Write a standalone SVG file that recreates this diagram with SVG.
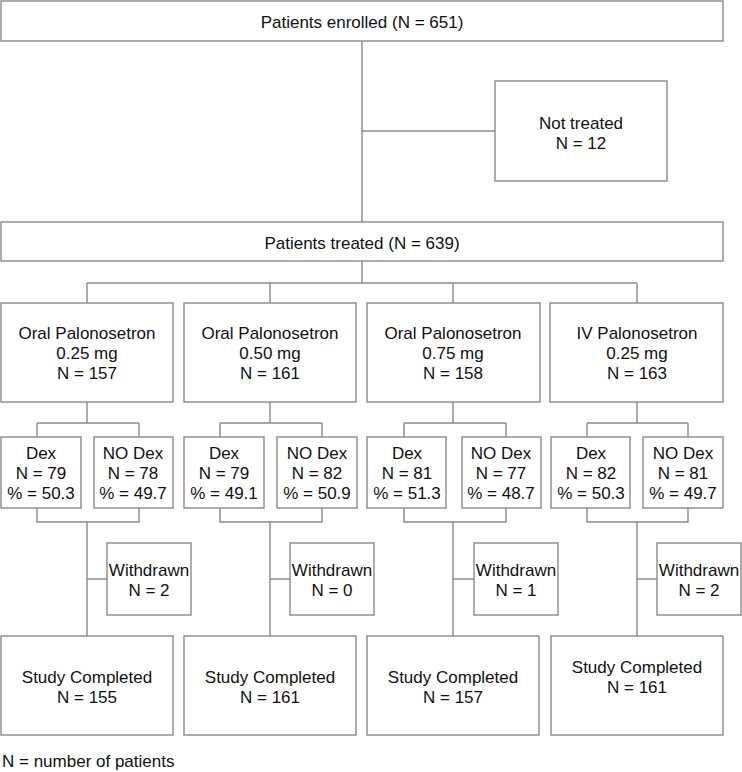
<svg xmlns="http://www.w3.org/2000/svg" width="742" height="772" viewBox="0 0 742 772">
<style>
rect{fill:#fff;stroke:#8a8a8a;stroke-width:1.4}
.c path{fill:none;stroke:#8a8a8a;stroke-width:1.4}
text{font-family:"Liberation Sans",Arial,Helvetica,sans-serif;font-size:17px;fill:#111;text-anchor:middle}
text.l{text-anchor:start}
</style>
<rect x="0" y="0" width="742" height="772" style="stroke:none"/>
<g class="c" id="connectors">
<path d="M362 41V222M362 131H495M362 261V283M87 283H637M87 283V303M270 283V303M453 283V303M637 283V303"/>
<path d="M87 402V423M37 423H139M37 423V437M139 423V437M37 508V522H139V508M87 522V636M87 579H107"/>
<path d="M270 402V423M220 423H322M220 423V437M322 423V437M220 508V522H322V508M270 522V636M270 579H290"/>
<path d="M453 402V423M404 423H506M404 423V437M506 423V437M404 508V522H506V508M453 522V636M453 579H474"/>
<path d="M637 402V423M587 423H688M587 423V437M688 423V437M587 508V522H688V508M637 522V636M637 579H657"/>
</g>
<g id="enrolled"><rect x="1" y="1" width="722" height="40"/><text x="362" y="28">Patients enrolled (N = 651)</text></g>
<g id="not-treated"><rect x="495" y="81" width="172" height="100"/><text x="581" y="129">Not treated</text><text x="581" y="149">N = 12</text></g>
<g id="treated"><rect x="1" y="222" width="722" height="39"/><text x="362" y="249">Patients treated (N = 639)</text></g>
<g id="grp1"><rect x="1" y="303" width="172" height="99"/><text x="87" y="339">Oral Palonosetron</text><text x="87" y="359">0.25 mg</text><text x="87" y="379">N = 157</text></g>
<g id="grp2"><rect x="184" y="303" width="172" height="99"/><text x="270" y="339">Oral Palonosetron</text><text x="270" y="359">0.50 mg</text><text x="270" y="379">N = 161</text></g>
<g id="grp3"><rect x="367" y="303" width="173" height="99"/><text x="453" y="339">Oral Palonosetron</text><text x="453" y="359">0.75 mg</text><text x="453" y="379">N = 158</text></g>
<g id="grp4"><rect x="550" y="303" width="173" height="99"/><text x="637" y="339">IV Palonosetron</text><text x="637" y="359">0.25 mg</text><text x="637" y="379">N = 163</text></g>
<g id="dex1"><rect x="1" y="437" width="80" height="71"/><text x="41" y="459">Dex</text><text x="41" y="479">N = 79</text><text x="41" y="499">% = 50.3</text></g>
<g id="nodex1"><rect x="94" y="437" width="79" height="71"/><text x="133" y="459">NO Dex</text><text x="133" y="479">N = 78</text><text x="133" y="499">% = 49.7</text></g>
<g id="dex2"><rect x="184" y="437" width="80" height="71"/><text x="224" y="459">Dex</text><text x="224" y="479">N = 79</text><text x="224" y="499">% = 49.1</text></g>
<g id="nodex2"><rect x="277" y="437" width="80" height="71"/><text x="317" y="459">NO Dex</text><text x="317" y="479">N = 82</text><text x="317" y="499">% = 50.9</text></g>
<g id="dex3"><rect x="367" y="437" width="79" height="71"/><text x="407" y="459">Dex</text><text x="407" y="479">N = 81</text><text x="407" y="499">% = 51.3</text></g>
<g id="nodex3"><rect x="462" y="437" width="79" height="71"/><text x="501" y="459">NO Dex</text><text x="501" y="479">N = 77</text><text x="501" y="499">% = 48.7</text></g>
<g id="dex4"><rect x="551" y="437" width="79" height="71"/><text x="591" y="459">Dex</text><text x="591" y="479">N = 82</text><text x="591" y="499">% = 50.3</text></g>
<g id="nodex4"><rect x="643" y="437" width="80" height="71"/><text x="683" y="459">NO Dex</text><text x="683" y="479">N = 81</text><text x="683" y="499">% = 49.7</text></g>
<g id="wd1"><rect x="107" y="543" width="84" height="72"/><text x="149" y="576">Withdrawn</text><text x="149" y="596">N = 2</text></g>
<g id="wd2"><rect x="290" y="543" width="84" height="72"/><text x="332" y="576">Withdrawn</text><text x="332" y="596">N = 0</text></g>
<g id="wd3"><rect x="474" y="543" width="84" height="72"/><text x="516" y="576">Withdrawn</text><text x="516" y="596">N = 1</text></g>
<g id="wd4"><rect x="657" y="543" width="84" height="72"/><text x="699" y="576">Withdrawn</text><text x="699" y="596">N = 2</text></g>
<g id="done1"><rect x="1" y="636" width="172" height="99"/><text x="87" y="683">Study Completed</text><text x="87" y="703">N = 155</text></g>
<g id="done2"><rect x="184" y="636" width="172" height="99"/><text x="270" y="683">Study Completed</text><text x="270" y="703">N = 161</text></g>
<g id="done3"><rect x="367" y="636" width="172" height="99"/><text x="453" y="683">Study Completed</text><text x="453" y="703">N = 157</text></g>
<g id="done4"><rect x="551" y="636" width="172" height="99"/><text x="637" y="673">Study Completed</text><text x="637" y="693">N = 161</text></g>
<text class="l" x="2" y="767">N = number of patients</text>
</svg>
